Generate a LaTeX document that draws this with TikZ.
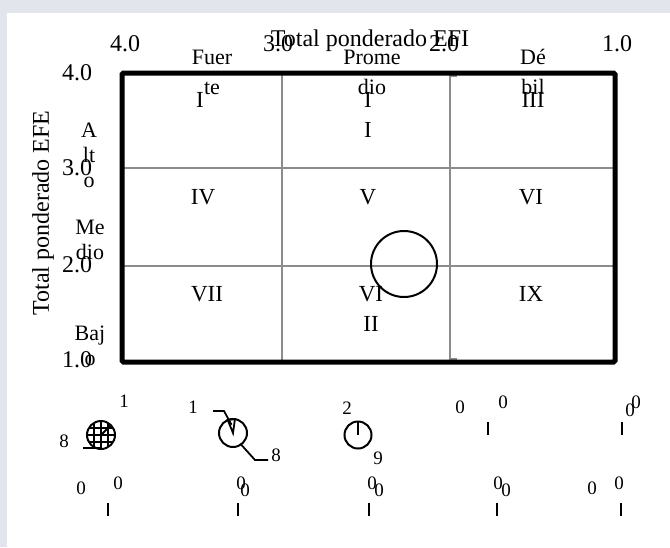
\documentclass[tikz,border=0pt]{standalone}
\usepackage{fontspec}
\setmainfont{Liberation Serif}
\usetikzlibrary{calc}
\definecolor{strip}{RGB}{226,229,235}
\definecolor{gline}{RGB}{140,140,140}
\begin{document}
\begin{tikzpicture}[x=1pt,y=-1pt,
  every node/.style={inner sep=0pt, outer sep=0pt},
  ax/.style={font=\fontsize{24}{28}\selectfont},
  cell/.style={font=\fontsize{23}{30}\selectfont, align=center},
  cat/.style={font=\fontsize{22}{30}\selectfont, align=center},
  side/.style={font=\fontsize{22}{25}\selectfont, align=center},
  small/.style={font=\fontsize{19}{21}\selectfont},
  gridline/.style={draw=gline, line width=1.6pt},
  frame/.style={line width=5pt, rounded corners=1.5pt},
  pie/.style={circle, draw, line width=2pt, minimum size=#1},
  lead/.style={line width=1.8pt},
  tick/.style={line width=2.8pt}]
\useasboundingbox (0,0) rectangle (670,547);
\fill[strip] (0,0) rectangle (670,547);
\fill[white] (7,13) rectangle (670,547);

% grid coordinates
\coordinate (tl) at (122,73);
\coordinate (br) at (615,362);
\coordinate (v1t) at (282,73);  \coordinate (v1b) at (282,362);
\coordinate (v2t) at (450,76);  \coordinate (v2b) at (450,359);
\coordinate (v2th) at (457,76); \coordinate (v2bh) at (457,359);
\coordinate (h1l) at (122,168); \coordinate (h1r) at (615,168);
\coordinate (h2l) at (122,266); \coordinate (h2r) at (615,266);

\draw[gridline] (v1t) -- (v1b);
\draw[gridline] (v2th) -- (v2t) -- (v2b) -- (v2bh);
\draw[gridline] (h1l) -- (h1r);
\draw[gridline] (h2l) -- (h2r);
\draw[frame] (tl) rectangle (br);

\node[pie=66] (big) at (404,264) {};

% top axis
\node[ax] (t4) at (125,44) {4.0};
\node[ax] (t3) at (278,44) {3.0};
\node[ax] (t2) at (444,44) {2.0};
\node[ax] (t1) at (617,44) {1.0};
\node[ax] (titleefi) at (370,41) {Total ponderado EFI};

% left axis
\node[ax] (l4) at (77,73) {4.0};
\node[ax] (l3) at (77,168) {3.0};
\node[ax] (l2) at (77,265) {2.0};
\node[ax] (l1) at (77,360) {1.0};
\node[ax, rotate=90] (titleefe) at (43,213) {Total ponderado EFE};

% categories
\node[cat] (fuerte) at (212,72) {Fuer\\te};
\node[cat] (promedio) at (372,72) {Prome\\dio};
\node[cat] (debil) at (533,72) {Dé\\bil};
\node[side] (alto) at (89,155) {A\\lt\\o};
\node[side] (medio) at (90,240) {Me\\dio};
\node[side] (bajo) at (90,346) {Baj\\o};

% cells
\node[cell] (c1) at (200,100) {I};
\node[cell] (c2) at (368,115) {I\\I};
\node[cell] (c3) at (533,100) {III};
\node[cell] (c4) at (203,197) {IV};
\node[cell] (c5) at (368,197) {V};
\node[cell] (c6) at (531,197) {VI};
\node[cell] (c7) at (207,294) {VII};
\node[cell] (c8) at (371,309) {VI\\II};
\node[cell] (c9) at (531,294) {IX};

% legend pie 1
\node[pie=28] (p1) at (101,435) {};
\begin{scope}
  \clip (101,435) circle (14);
  \foreach \d in {-7,0,7} {
    \draw[line width=1.5pt] (101+\d,420) -- (101+\d,450);
    \draw[line width=1.5pt] (86,435+\d) -- (116,435+\d);
  }
\end{scope}
\draw[lead] (p1.center) -- (p1.90);
\draw[lead] (p1.center) -- (p1.45);
\node[small] (p1a) at (124,401) {1};
\node[small] (p1b) at (64,441) {8};
\coordinate (p1l) at (83,448);
\coordinate (p1r) at (101,448);
\draw[lead] (p1l) -- (p1r);

% legend pie 2
\node[pie=28] (p2) at (233,433) {};
\draw[lead, fill=white] (p2.center) -- (p2.112) -- (p2.82) -- cycle;
\node[small] (p2a) at (193,407) {1};
\node[small] (p2b) at (276,455) {8};
\coordinate (p2k1) at (213,411);
\coordinate (p2k2) at (224,411);
\coordinate (p2k3) at (255,460);
\coordinate (p2k4) at (268,460);
\draw[lead] (p2k1) -- (p2k2) -- ($(p2.center)!0.6!(p2.100)$);
\draw[lead] (p2.-55) -- (p2k3) -- (p2k4);

% legend pie 3
\node[pie=27] (p3) at (358,435) {};
\draw[lead] (p3.center) -- (p3.90);
\node[small] (p3a) at (347,408) {2};
\node[small] (p3b) at (378,458) {9};

% legend zeros row 1
\node[small] (z41) at (460,407) {0};
\node[small] (z42) at (503,402) {0};
\coordinate (k4t) at (488,422); \coordinate (k4b) at (488,435);
\draw[tick] (k4t) -- (k4b);
\node[small] (z51) at (630,410) {0};
\node[small] (z52) at (636,402) {0};
\coordinate (k5t) at (622,422); \coordinate (k5b) at (622,435);
\draw[tick] (k5t) -- (k5b);

% legend zeros row 2
\node[small] (r1a) at (81,488) {0};
\node[small] (r1b) at (118,483) {0};
\coordinate (q1t) at (108,503); \coordinate (q1b) at (108,516);
\draw[tick] (q1t) -- (q1b);
\node[small] (r2a) at (241,483) {0};
\node[small] (r2b) at (245,490) {0};
\coordinate (q2t) at (238,503); \coordinate (q2b) at (238,516);
\draw[tick] (q2t) -- (q2b);
\node[small] (r3a) at (372,483) {0};
\node[small] (r3b) at (379,490) {0};
\coordinate (q3t) at (369,503); \coordinate (q3b) at (369,516);
\draw[tick] (q3t) -- (q3b);
\node[small] (r4a) at (498,483) {0};
\node[small] (r4b) at (506,490) {0};
\coordinate (q4t) at (497,503); \coordinate (q4b) at (497,516);
\draw[tick] (q4t) -- (q4b);
\node[small] (r5a) at (592,488) {0};
\node[small] (r5b) at (619,483) {0};
\coordinate (q5t) at (621,503); \coordinate (q5b) at (621,516);
\draw[tick] (q5t) -- (q5b);
\end{tikzpicture}
\end{document}
